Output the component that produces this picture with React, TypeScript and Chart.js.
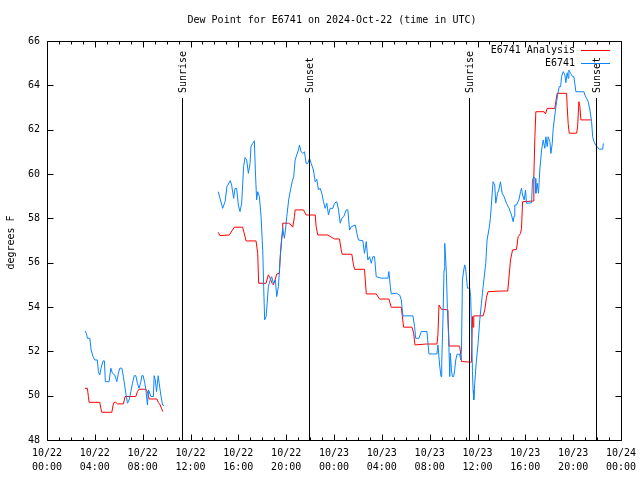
import React, { useEffect, useRef } from "react";
import { Chart, registerables } from "chart.js";

Chart.register(...registerables);

const TITLE = "Dew Point for E6741 on 2024-Oct-22 (time in UTC)";
const Y_LABEL = "degrees F";
const SERIES_NAMES = ["E6741 Analysis", "E6741"];
const SERIES_COLORS = ["#ff0000", "#0a84ff"];

// x tick labels (every 4 hours from 10/22 00:00)
const X_TICK_HOURS = [0, 4, 8, 12, 16, 20, 24, 28, 32, 36, 40, 44, 48];
const X_TICK_DATES = ["10/22", "10/22", "10/22", "10/22", "10/22", "10/22", "10/23", "10/23", "10/23", "10/23", "10/23", "10/23", "10/24"];
const X_TICK_TIMES = ["00:00", "04:00", "08:00", "12:00", "16:00", "20:00", "00:00", "04:00", "08:00", "12:00", "16:00", "20:00", "00:00"];
const Y_TICKS = [48, 50, 52, 54, 56, 58, 60, 62, 64, 66];

// sun events (hours after 10/22 00:00 UTC)
const SUN_LABELS = ["Sunrise", "Sunset", "Sunrise", "Sunset"];
const SUN_HOURS = [11.26, 21.91, 35.31, 45.95];

// E6741 Analysis (hours after 10/22 00:00 UTC, degrees F); null = gap
const analysisHours = [
  3.18, 3.38, 3.46, 3.52, 4.41, 4.5, 4.58, 5.42, 5.53, 5.61, 5.75, 5.89, 6.39, 6.53, 7.43, 7.56, 7.7, 8.27, 8.4, 8.54, 9.19, 9.32, 9.47, 9.57, 9.69,
  12,
  14.32, 14.46, 15.25, 15.66, 16.36, 16.65, 17.48, 17.62, 17.7, 18.32, 18.51, 18.66, 18.82, 18.93, 19.07, 19.21, 19.43, 19.52, 19.66, 19.71,
  20.21, 20.41, 20.55, 20.69, 20.75, 21.45, 21.67, 22.43, 22.51, 22.64, 23.48, 23.77, 24.04, 24.46, 24.6, 24.69, 25.49, 25.63, 25.72,
  26.55, 26.7, 27.53, 27.81, 28.59, 28.79, 29.63, 29.71, 29.82, 30.52, 30.66, 30.77, 31.72, 32.61, 32.69, 32.78, 32.98, 33.53, 33.54,
  33.62, 34.51, 34.6, 34.66, 35.49, 35.58, 35.63, 35.69, 36.47, 36.61, 36.75, 36.88, 37.86, 38.53, 38.76, 38.93, 39.26, 39.4, 39.6,
  39.68, 39.77, 40.65, 40.71, 40.8, 40.88, 41.57, 41.69, 41.83, 42.47, 42.55, 42.66, 43.45, 43.5, 43.58, 43.67, 44.29, 44.37, 44.48,
  44.56, 44.65, 45.49,
];
const analysisValues = [
  50.33, 50.33, 49.96, 49.7, 49.7, 49.43, 49.25, 49.25, 49.58, 49.7, 49.7, 49.63, 49.63, 49.96, 49.96, 50.18, 50.29, 50.29, 50.18, 49.85, 49.85, 49.69, 49.58, 49.43, 49.28,
  null,
  57.37, 57.22, 57.25, 57.6, 57.6, 56.98, 56.98, 56.42, 55.07, 55.07, 55.45, 55.3, 55.07, 55.0, 55.22, 55.49, 55.52, 56.42, 57.25, 57.78,
  57.78, 57.7, 57.6, 58.07, 58.38, 58.38, 58.15, 58.15, 57.62, 57.25, 57.25, 57.15, 57.07, 57.07, 56.57, 56.38, 56.38, 55.9, 55.7,
  55.7, 54.59, 54.59, 54.36, 54.36, 53.99, 53.99, 53.6, 53.09, 53.09, 52.82, 52.29, 52.33, 52.33, 52.74, 54.09, 53.9, 53.87, 53.49,
  52.24, 52.24, 51.84, 51.54, 51.51, 53.57, 53.09, 53.6, 53.6, 53.87, 54.44, 54.69, 54.72, 54.72, 56.12, 56.57, 56.6, 57.17, 57.32,
  57.55, 58.75, 58.78, 59.88, 61.68, 62.81, 62.81, 62.71, 62.96, 62.96, 63.26, 63.64, 63.64, 63.04, 62.29, 61.84, 61.84, 62.13, 63.26,
  63.04, 62.44, 62.44,
];

// E6741 observations
const stationHours = [
  3.18, 3.29, 3.38, 3.58, 3.69, 3.85, 4.0, 4.21, 4.3, 4.41, 4.52, 4.69, 4.8, 4.88, 5.19, 5.34, 5.47, 5.67, 5.84, 5.97, 6.09, 6.26, 6.39,
  6.59, 6.73, 6.87, 7.01, 7.15, 7.29, 7.43, 7.56, 7.7, 7.85, 7.93, 8.04, 8.18, 8.27, 8.4, 8.49, 8.69, 8.9, 8.96, 9.05, 9.16, 9.3, 9.38,
  9.52, 9.66, 9.8,
  12,
  14.32, 14.69, 14.89, 15.05, 15.33, 15.44, 15.61, 15.72, 15.86, 16.0, 16.14, 16.28, 16.44, 16.56, 16.7, 16.84, 16.98, 17.06, 17.2,
  17.34, 17.42, 17.53, 17.62, 17.76, 17.9, 18.04, 18.12, 18.2, 18.32, 18.4, 18.51, 18.66, 18.79, 18.93, 19.1, 19.21, 19.35, 19.49,
  19.63, 19.71, 19.85, 19.94, 20.05, 20.21, 20.36, 20.5, 20.63, 20.75, 20.88, 21.03, 21.11, 21.25, 21.39, 21.53, 21.67, 21.81, 21.95,
  22.09, 22.28, 22.43, 22.56, 22.7, 22.84, 22.98, 23.12, 23.26, 23.4, 23.54, 23.68, 23.9, 24.04, 24.23, 24.38, 24.52, 24.65, 24.82,
  25.02, 25.16, 25.3, 25.44, 25.78, 25.91, 26.05, 26.41, 26.55, 26.7, 26.83, 26.97, 27.12, 27.25, 27.39, 27.53, 27.95, 28.51, 28.59,
  28.71, 28.79, 29.21, 29.49, 29.63, 29.76, 30.6, 30.74, 30.83, 31.1, 31.3, 31.77, 31.86, 31.94, 32.61, 32.69, 32.84, 32.95, 33.01,
  33.11, 33.2, 33.26, 33.32, 33.4, 33.48, 33.59, 33.68, 33.73, 33.82, 33.9, 34.01, 34.09, 34.18, 34.29, 34.51, 34.6, 34.66, 34.74,
  34.85, 34.93, 35.02, 35.07, 35.16, 35.35, 35.43, 35.52, 35.58, 35.63, 35.69, 35.77, 35.91, 36.05, 36.19, 36.33, 36.47, 36.69, 36.8,
  36.97, 37.08, 37.16, 37.3, 37.44, 37.53, 37.67, 37.78, 37.92, 38.06, 38.22, 38.42, 38.64, 38.84, 38.98, 39.06, 39.12, 39.26, 39.46,
  39.6, 39.68, 39.77, 39.9, 40.02, 40.1, 40.52, 40.6, 40.71, 40.82, 40.88, 40.99, 41.1, 41.21, 41.36, 41.49, 41.63, 41.72, 41.83,
  41.91, 42.05, 42.14, 42.25, 42.33, 42.47, 42.61, 42.75, 42.83, 42.95, 43.03, 43.17, 43.31, 43.39, 43.5, 43.58, 43.64, 43.79, 43.95,
  44.06, 44.15, 44.23, 44.9, 44.98, 45.13, 45.26, 45.4, 45.54, 45.63, 45.74, 45.88, 46.01, 46.18, 46.47, 46.52,
];
const stationValues = [
  52.92, 52.82, 52.59, 52.59, 52.06, 51.76, 51.61, 51.61, 51.08, 50.93, 51.24, 51.57, 51.57, 50.63, 50.63, 51.24, 51.01, 50.93, 50.63,
  51.01, 51.24, 51.24, 50.86, 50.11, 49.66, 49.81, 50.18, 50.56, 50.9, 50.9, 50.56, 50.33, 50.63, 50.9, 50.9, 50.56, 50.26, 49.58,
  50.26, 49.96, 49.96, 50.9, 50.71, 50.18, 50.9, 50.56, 50.03, 49.58, 49.55,
  null,
  59.2, 58.45, 58.75, 59.43, 59.7, 59.5, 58.9, 59.35, 59.35, 58.6, 58.3, 58.68, 60.33, 60.74, 60.63, 60.03, 60.48, 61.23, 61.38,
  61.5, 60.18, 58.83, 59.2, 58.98, 58.08, 56.57, 54.92, 53.42, 53.56, 54.09, 54.92, 55.22, 55.37, 55.07, 55.22, 54.47, 54.92, 56.12,
  57.17, 57.55, 57.1, 57.47, 58.07, 58.83, 59.28, 59.65, 59.88, 60.63, 60.86, 61.08, 61.31, 61.0, 60.93, 61.0, 60.48, 60.48, 60.71,
  60.48, 60.18, 59.65, 59.76, 59.28, 59.36, 59.13, 58.75, 58.45, 58.68, 58.15, 58.45, 58.45, 58.68, 58.75, 58.38, 57.78, 58.0, 58.08,
  58.38, 58.38, 57.47, 57.62, 57.7, 57.33, 57.02, 56.99, 56.42, 56.95, 56.12, 56.27, 55.97, 56.27, 56.27, 55.37, 55.3, 55.3, 55.6,
  54.92, 54.59, 54.62, 54.54, 54.32, 53.6, 53.6, 53.11, 52.59, 52.59, 52.89, 52.89, 52.36, 51.88, 51.88, 52.29, 51.34, 50.86, 51.46,
  53.42, 55.67, 56.87, 56.35, 55.52, 53.94, 52.59, 50.86, 51.91, 51.16, 50.86, 50.86, 51.16, 51.61, 51.87, 51.87, 51.61, 52.06, 55.22,
  55.67, 55.9, 55.67, 55.37, 54.85, 54.85, 54.47, 52.66, 51.09, 50.26, 49.81, 50.56, 51.61, 52.36, 53.42, 54.17, 54.92, 55.97, 57.02,
  57.55, 58.0, 58.6, 59.65, 59.5, 58.68, 59.13, 59.28, 59.65, 59.13, 58.98, 58.68, 58.45, 58.15, 57.85, 58.1, 58.6, 58.6, 58.83,
  59.2, 59.36, 59.05, 58.83, 59.28, 58.68, 58.7, 59.73, 59.88, 59.8, 59.13, 59.58, 59.13, 60.18, 61.08, 61.53, 61.16, 61.68, 61.23,
  61.68, 61.46, 60.93, 61.38, 62.06, 62.66, 63.26, 63.71, 63.94, 63.94, 64.39, 64.62, 64.47, 64.12, 64.57, 64.32, 64.69, 64.54, 64.39,
  64.39, 64.02, 63.71, 63.71, 63.56, 63.41, 63.26, 62.89, 62.36, 61.68, 61.46, 61.31, 61.23, 61.12, 61.12, 61.38,
];

const FONT = "DejaVu Sans Mono";

function toPoints(xs: number[], ys: (number | null)[]) {
  return xs.map((x, i) => ({ x, y: ys[i] }));
}

const overlayPlugin = {
  id: "overlay",
  afterDatasetsDraw(chart: any) {
    const { ctx, chartArea: a, scales } = chart;
    const xs = scales.x;
    const ys = scales.y;
    const L = Math.round(a.left) + 0.5;
    const R = Math.round(a.right) + 0.5;
    const T = Math.round(a.top) + 0.5;
    const B = Math.round(a.bottom) + 0.5;
    ctx.save();
    ctx.strokeStyle = "#000";
    ctx.fillStyle = "#000";
    ctx.lineWidth = 1;
    ctx.font = `10px "${FONT}"`;

    // sun lines + labels
    SUN_HOURS.forEach((h, i) => {
      const px = Math.round(xs.getPixelForValue(h)) + 0.5;
      ctx.beginPath();
      ctx.moveTo(px, B);
      ctx.lineTo(px, a.top + 57);
      ctx.stroke();
      ctx.save();
      ctx.translate(px + 1, a.top + 52);
      ctx.rotate(-Math.PI / 2);
      ctx.textAlign = "left";
      ctx.textBaseline = "middle";
      ctx.fillText(SUN_LABELS[i], 0, 0);
      ctx.restore();
    });

    // frame
    ctx.beginPath();
    ctx.rect(L, T, R - L, B - T);
    ctx.stroke();

    // x ticks (hourly minor, 4-hourly major), bottom and top
    ctx.beginPath();
    for (let h = 0; h <= 48; h++) {
      const px = Math.round(xs.getPixelForValue(h)) + 0.5;
      const len = h % 4 === 0 ? 6 : 3;
      ctx.moveTo(px, B);
      ctx.lineTo(px, B - len);
      ctx.moveTo(px, T);
      ctx.lineTo(px, T + len);
    }
    // y ticks left and right
    Y_TICKS.forEach((v) => {
      const py = Math.round(ys.getPixelForValue(v)) + 0.5;
      ctx.moveTo(L, py);
      ctx.lineTo(L + 6, py);
      ctx.moveTo(R, py);
      ctx.lineTo(R - 6, py);
    });
    ctx.stroke();

    // legend
    ctx.textAlign = "right";
    ctx.textBaseline = "middle";
    SERIES_NAMES.forEach((name, i) => {
      const ty = a.top + 9 + i * 13;
      ctx.fillStyle = "#000";
      ctx.fillText(name, a.right - 46, ty);
      ctx.strokeStyle = SERIES_COLORS[i];
      ctx.beginPath();
      ctx.moveTo(a.right - 40, Math.round(ty) + 0.5);
      ctx.lineTo(a.right - 11, Math.round(ty) + 0.5);
      ctx.stroke();
    });

    // title
    ctx.fillStyle = "#000";
    ctx.textAlign = "center";
    ctx.textBaseline = "middle";
    ctx.fillText(TITLE, 332, 20);

    // y axis label
    ctx.save();
    ctx.translate(11, (a.top + a.bottom) / 2 + 2);
    ctx.rotate(-Math.PI / 2);
    ctx.textAlign = "center";
    ctx.textBaseline = "middle";
    ctx.fillText(Y_LABEL, 0, 0);
    ctx.restore();

    ctx.restore();
  },
};

export default function App() {
  const ref = useRef<HTMLCanvasElement | null>(null);

  useEffect(() => {
    if (!ref.current) return;
    const chart = new Chart(ref.current, {
      type: "line",
      data: {
        datasets: [
          {
            label: SERIES_NAMES[1],
            data: toPoints(stationHours, stationValues),
            borderColor: SERIES_COLORS[1],
            backgroundColor: SERIES_COLORS[1],
            borderWidth: 1,
            pointRadius: 0,
            tension: 0,
            spanGaps: false,
          },
          {
            label: SERIES_NAMES[0],
            data: toPoints(analysisHours, analysisValues),
            borderColor: SERIES_COLORS[0],
            backgroundColor: SERIES_COLORS[0],
            borderWidth: 1,
            pointRadius: 0,
            tension: 0,
            spanGaps: false,
          },
        ],
      },
      options: {
        animation: false,
        responsive: false,
        layout: { padding: { top: 41, right: 19, left: 0, bottom: 0 }, autoPadding: false },
        plugins: {
          legend: { display: false },
          title: { display: false },
          tooltip: { enabled: false },
        },
        scales: {
          x: {
            type: "linear",
            min: 0,
            max: 48,
            grid: { display: false, drawTicks: false },
            border: { display: false },
            afterBuildTicks: (scale: any) => {
              scale.ticks = X_TICK_HOURS.map((v) => ({ value: v }));
            },
            afterFit: (scale: any) => {
              scale.height = 40;
              scale.paddingLeft = 0;
              scale.paddingRight = 0;
            },
            ticks: {
              maxRotation: 0,
              minRotation: 0,
              autoSkip: false,
              padding: 7,
              color: "#000",
              font: { family: FONT, size: 10, lineHeight: 1.35 },
              callback: (value: any) => {
                const i = X_TICK_HOURS.indexOf(Number(value));
                return i >= 0 ? [X_TICK_DATES[i], X_TICK_TIMES[i]] : "";
              },
            },
          },
          y: {
            min: 48,
            max: 66,
            grid: { display: false, drawTicks: false },
            border: { display: false },
            afterBuildTicks: (scale: any) => {
              scale.ticks = Y_TICKS.map((v) => ({ value: v }));
            },
            afterFit: (scale: any) => {
              scale.width = 47;
              scale.paddingTop = 0;
              scale.paddingBottom = 0;
            },
            ticks: {
              padding: 7,
              color: "#000",
              font: { family: FONT, size: 10 },
              callback: (value: any) => String(value),
            },
          },
        },
      },
      plugins: [overlayPlugin],
    });
    return () => chart.destroy();
  }, []);

  return (
    <div style={{ position: "absolute", left: 0, top: 0, width: 640, height: 480, background: "#fff" }}>
      <canvas ref={ref} width={640} height={480} />
    </div>
  );
}
